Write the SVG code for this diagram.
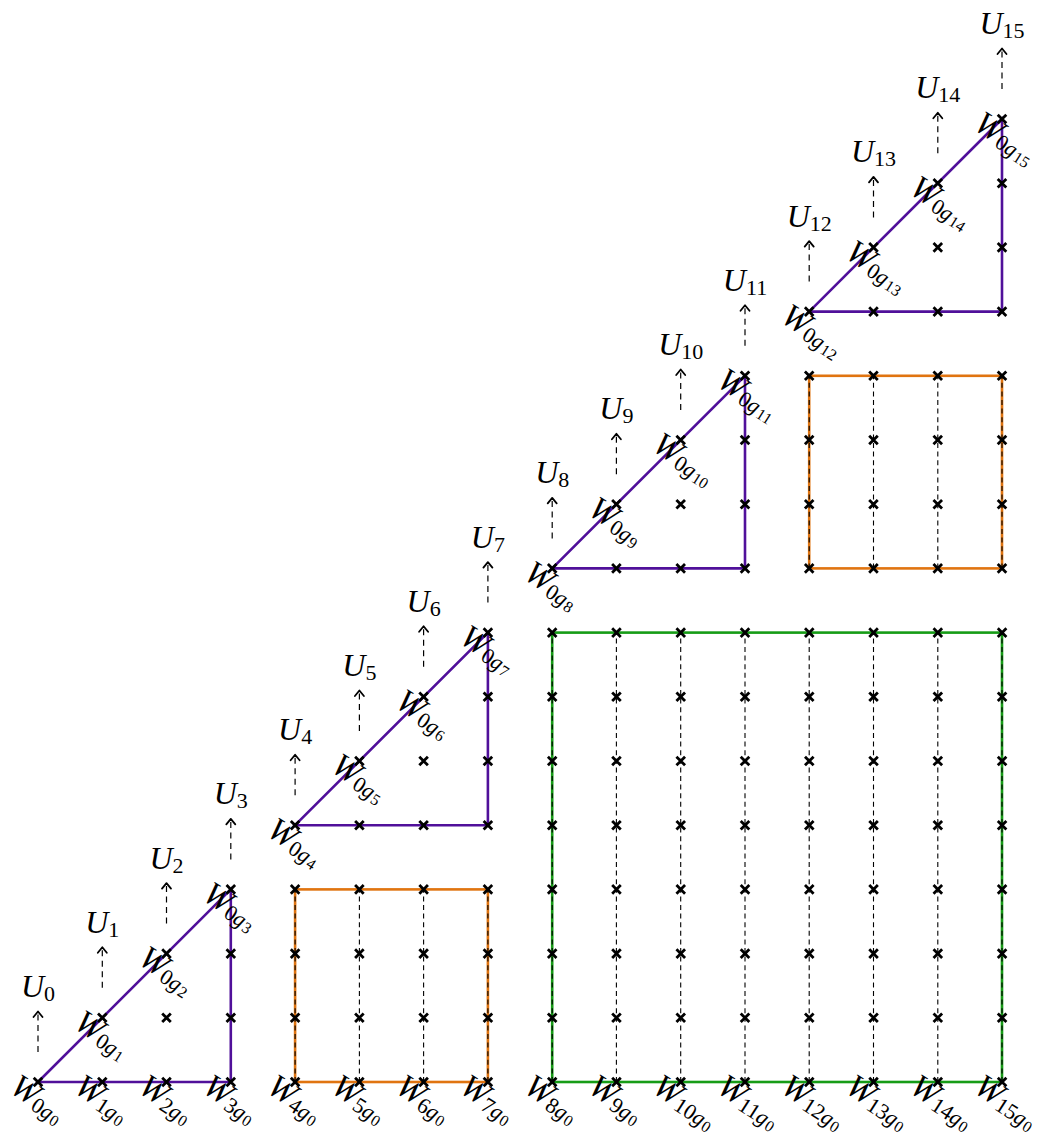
<svg xmlns="http://www.w3.org/2000/svg" xmlns:xlink="http://www.w3.org/1999/xlink" width="1038" height="1136" viewBox="0 0 1038 1136">
<style>
.pur{fill:none;stroke:#50109a;stroke-width:2.6;stroke-linejoin:miter}
.org{fill:none;stroke:#e07410;stroke-width:2.6}
.grn{fill:none;stroke:#169c16;stroke-width:2.6}
.dsh{stroke:#000;stroke-width:1.1;stroke-dasharray:5 3.6;fill:none}
.adsh{stroke:#000;stroke-width:1.2;stroke-dasharray:6 4.5;fill:none}
.xm{stroke:#000;stroke-width:2.8;fill:none}
.ah{stroke:#000;stroke-width:1.8;fill:none;stroke-linecap:round;stroke-linejoin:round}
text{font-family:"Liberation Serif","DejaVu Serif",serif;fill:#000}
.w{font-size:33px;font-style:italic}
.u{font-size:32px;font-style:italic}
.s{font-size:22px;font-style:normal}
.si{font-size:22px;font-style:italic}
.ss{font-size:16px;font-style:normal}
</style>
<defs>
<path id="x" class="xm" d="M-4.3,-4.3L4.3,4.3M-4.3,4.3L4.3,-4.3"/>
<g id="r4"><use href="#x" x="0"/><use href="#x" x="64.27"/><use href="#x" x="128.54"/><use href="#x" x="192.81"/></g>
<g id="r8"><use href="#r4" x="0"/><use href="#r4" x="257.08"/></g>
<g id="arr"><line class="adsh" x1="0" y1="-30" x2="0" y2="-69"/><path class="ah" d="M-4.5,-65L0,-70.5L4.5,-65"/></g>
</defs>
<rect width="1038" height="1136" fill="#fff"/>

<g id="connectors">
<polygon class="pur" points="38,1082 230.8,1082 230.8,889.4"/>
<polygon class="pur" points="295.1,825.2 487.9,825.2 487.9,632.6"/>
<polygon class="pur" points="552.2,568.4 745,568.4 745,375.8"/>
<polygon class="pur" points="809.2,311.6 1002,311.6 1002,119"/>
<rect class="org" x="295.1" y="889.4" width="192.8" height="192.6"/>
<rect class="org" x="809.2" y="375.8" width="192.8" height="192.6"/>
<rect class="grn" x="552.2" y="632.6" width="449.8" height="449.4"/>
<g>
<line class="dsh" x1="295.1" y1="1082" x2="295.1" y2="889.4"/>
<line class="dsh" x1="359.4" y1="1082" x2="359.4" y2="889.4"/>
<line class="dsh" x1="423.6" y1="1082" x2="423.6" y2="889.4"/>
<line class="dsh" x1="487.9" y1="1082" x2="487.9" y2="889.4"/>
<line class="dsh" x1="809.2" y1="568.4" x2="809.2" y2="375.8"/>
<line class="dsh" x1="873.5" y1="568.4" x2="873.5" y2="375.8"/>
<line class="dsh" x1="937.8" y1="568.4" x2="937.8" y2="375.8"/>
<line class="dsh" x1="1002" y1="568.4" x2="1002" y2="375.8"/>
<line class="dsh" x1="552.2" y1="1082" x2="552.2" y2="632.6"/>
<line class="dsh" x1="616.4" y1="1082" x2="616.4" y2="632.6"/>
<line class="dsh" x1="680.7" y1="1082" x2="680.7" y2="632.6"/>
<line class="dsh" x1="745" y1="1082" x2="745" y2="632.6"/>
<line class="dsh" x1="809.2" y1="1082" x2="809.2" y2="632.6"/>
<line class="dsh" x1="873.5" y1="1082" x2="873.5" y2="632.6"/>
<line class="dsh" x1="937.8" y1="1082" x2="937.8" y2="632.6"/>
<line class="dsh" x1="1002" y1="1082" x2="1002" y2="632.6"/>
</g>
<g id="arrows">
<use href="#arr" x="38" y="1082"/>
<use href="#arr" x="102.3" y="1017.8"/>
<use href="#arr" x="166.5" y="953.6"/>
<use href="#arr" x="230.8" y="889.4"/>
<use href="#arr" x="295.1" y="825.2"/>
<use href="#arr" x="359.4" y="761"/>
<use href="#arr" x="423.6" y="696.8"/>
<use href="#arr" x="487.9" y="632.6"/>
<use href="#arr" x="552.2" y="568.4"/>
<use href="#arr" x="616.4" y="504.2"/>
<use href="#arr" x="680.7" y="440"/>
<use href="#arr" x="745" y="375.8"/>
<use href="#arr" x="809.2" y="311.6"/>
<use href="#arr" x="873.5" y="247.4"/>
<use href="#arr" x="937.8" y="183.2"/>
<use href="#arr" x="1002" y="119"/>
</g>
</g>

<g id="block-tri-0">
<use href="#x" x="38" y="1082"/><use href="#x" x="102.3" y="1082"/><use href="#x" x="166.5" y="1082"/><use href="#x" x="230.8" y="1082"/>
<use href="#x" x="102.3" y="1017.8"/><use href="#x" x="166.5" y="1017.8"/><use href="#x" x="230.8" y="1017.8"/>
<use href="#x" x="166.5" y="953.6"/><use href="#x" x="230.8" y="953.6"/><use href="#x" x="230.8" y="889.4"/>
</g>
<g id="block-tri-1">
<use href="#x" x="295.1" y="825.2"/><use href="#x" x="359.4" y="825.2"/><use href="#x" x="423.6" y="825.2"/><use href="#x" x="487.9" y="825.2"/>
<use href="#x" x="359.4" y="761"/><use href="#x" x="423.6" y="761"/><use href="#x" x="487.9" y="761"/>
<use href="#x" x="423.6" y="696.8"/><use href="#x" x="487.9" y="696.8"/><use href="#x" x="487.9" y="632.6"/>
</g>
<g id="block-tri-2">
<use href="#x" x="552.2" y="568.4"/><use href="#x" x="616.4" y="568.4"/><use href="#x" x="680.7" y="568.4"/><use href="#x" x="745" y="568.4"/>
<use href="#x" x="616.4" y="504.2"/><use href="#x" x="680.7" y="504.2"/><use href="#x" x="745" y="504.2"/>
<use href="#x" x="680.7" y="440"/><use href="#x" x="745" y="440"/><use href="#x" x="745" y="375.8"/>
</g>
<g id="block-tri-3">
<use href="#x" x="809.2" y="311.6"/><use href="#x" x="873.5" y="311.6"/><use href="#x" x="937.8" y="311.6"/><use href="#x" x="1002" y="311.6"/>
<use href="#x" x="873.5" y="247.4"/><use href="#x" x="937.8" y="247.4"/><use href="#x" x="1002" y="247.4"/>
<use href="#x" x="937.8" y="183.2"/><use href="#x" x="1002" y="183.2"/><use href="#x" x="1002" y="119"/>
</g>
<g id="block-sq-orange-a">
<use href="#r4" x="295.1" y="1082"/><use href="#r4" x="295.1" y="1017.8"/><use href="#r4" x="295.1" y="953.6"/><use href="#r4" x="295.1" y="889.4"/>
</g>
<g id="block-sq-orange-b">
<use href="#r4" x="809.2" y="568.4"/><use href="#r4" x="809.2" y="504.2"/><use href="#r4" x="809.2" y="440"/><use href="#r4" x="809.2" y="375.8"/>
</g>
<g id="block-sq-green">
<use href="#r8" x="552.2" y="1082"/><use href="#r8" x="552.2" y="1017.8"/><use href="#r8" x="552.2" y="953.6"/><use href="#r8" x="552.2" y="889.4"/>
<use href="#r8" x="552.2" y="825.2"/><use href="#r8" x="552.2" y="761"/><use href="#r8" x="552.2" y="696.8"/><use href="#r8" x="552.2" y="632.6"/>
</g>

<g id="u-labels">
<text class="u" x="38" y="997" text-anchor="middle">U<tspan class="s" dy="4">0</tspan></text>
<text class="u" x="102.3" y="932.8" text-anchor="middle">U<tspan class="s" dy="4">1</tspan></text>
<text class="u" x="166.5" y="868.6" text-anchor="middle">U<tspan class="s" dy="4">2</tspan></text>
<text class="u" x="230.8" y="804.4" text-anchor="middle">U<tspan class="s" dy="4">3</tspan></text>
<text class="u" x="295.1" y="740.2" text-anchor="middle">U<tspan class="s" dy="4">4</tspan></text>
<text class="u" x="359.4" y="676" text-anchor="middle">U<tspan class="s" dy="4">5</tspan></text>
<text class="u" x="423.6" y="611.8" text-anchor="middle">U<tspan class="s" dy="4">6</tspan></text>
<text class="u" x="487.9" y="547.6" text-anchor="middle">U<tspan class="s" dy="4">7</tspan></text>
<text class="u" x="552.2" y="483.4" text-anchor="middle">U<tspan class="s" dy="4">8</tspan></text>
<text class="u" x="616.4" y="419.2" text-anchor="middle">U<tspan class="s" dy="4">9</tspan></text>
<text class="u" x="680.7" y="355" text-anchor="middle">U<tspan class="s" dy="4">10</tspan></text>
<text class="u" x="745" y="290.8" text-anchor="middle">U<tspan class="s" dy="4">11</tspan></text>
<text class="u" x="809.2" y="226.6" text-anchor="middle">U<tspan class="s" dy="4">12</tspan></text>
<text class="u" x="873.5" y="162.4" text-anchor="middle">U<tspan class="s" dy="4">13</tspan></text>
<text class="u" x="937.8" y="98.2" text-anchor="middle">U<tspan class="s" dy="4">14</tspan></text>
<text class="u" x="1002" y="34" text-anchor="middle">U<tspan class="s" dy="4">15</tspan></text>
</g>

<g id="w-bottom-labels">
<g transform="translate(38,1082) rotate(33)"><text class="w" x="-20" y="24">W<tspan class="s" dy="3">0</tspan><tspan class="si">g</tspan><tspan class="ss" dx="1" dy="2">0</tspan></text></g>
<g transform="translate(102.3,1082) rotate(33)"><text class="w" x="-20" y="24">W<tspan class="s" dy="3">1</tspan><tspan class="si">g</tspan><tspan class="ss" dx="1" dy="2">0</tspan></text></g>
<g transform="translate(166.5,1082) rotate(33)"><text class="w" x="-20" y="24">W<tspan class="s" dy="3">2</tspan><tspan class="si">g</tspan><tspan class="ss" dx="1" dy="2">0</tspan></text></g>
<g transform="translate(230.8,1082) rotate(33)"><text class="w" x="-20" y="24">W<tspan class="s" dy="3">3</tspan><tspan class="si">g</tspan><tspan class="ss" dx="1" dy="2">0</tspan></text></g>
<g transform="translate(295.1,1082) rotate(33)"><text class="w" x="-20" y="24">W<tspan class="s" dy="3">4</tspan><tspan class="si">g</tspan><tspan class="ss" dx="1" dy="2">0</tspan></text></g>
<g transform="translate(359.4,1082) rotate(33)"><text class="w" x="-20" y="24">W<tspan class="s" dy="3">5</tspan><tspan class="si">g</tspan><tspan class="ss" dx="1" dy="2">0</tspan></text></g>
<g transform="translate(423.6,1082) rotate(33)"><text class="w" x="-20" y="24">W<tspan class="s" dy="3">6</tspan><tspan class="si">g</tspan><tspan class="ss" dx="1" dy="2">0</tspan></text></g>
<g transform="translate(487.9,1082) rotate(33)"><text class="w" x="-20" y="24">W<tspan class="s" dy="3">7</tspan><tspan class="si">g</tspan><tspan class="ss" dx="1" dy="2">0</tspan></text></g>
<g transform="translate(552.2,1082) rotate(33)"><text class="w" x="-20" y="24">W<tspan class="s" dy="3">8</tspan><tspan class="si">g</tspan><tspan class="ss" dx="1" dy="2">0</tspan></text></g>
<g transform="translate(616.4,1082) rotate(33)"><text class="w" x="-20" y="24">W<tspan class="s" dy="3">9</tspan><tspan class="si">g</tspan><tspan class="ss" dx="1" dy="2">0</tspan></text></g>
<g transform="translate(680.7,1082) rotate(33)"><text class="w" x="-20" y="24">W<tspan class="s" dy="3">10</tspan><tspan class="si">g</tspan><tspan class="ss" dx="1" dy="2">0</tspan></text></g>
<g transform="translate(745,1082) rotate(33)"><text class="w" x="-20" y="24">W<tspan class="s" dy="3">11</tspan><tspan class="si">g</tspan><tspan class="ss" dx="1" dy="2">0</tspan></text></g>
<g transform="translate(809.2,1082) rotate(33)"><text class="w" x="-20" y="24">W<tspan class="s" dy="3">12</tspan><tspan class="si">g</tspan><tspan class="ss" dx="1" dy="2">0</tspan></text></g>
<g transform="translate(873.5,1082) rotate(33)"><text class="w" x="-20" y="24">W<tspan class="s" dy="3">13</tspan><tspan class="si">g</tspan><tspan class="ss" dx="1" dy="2">0</tspan></text></g>
<g transform="translate(937.8,1082) rotate(33)"><text class="w" x="-20" y="24">W<tspan class="s" dy="3">14</tspan><tspan class="si">g</tspan><tspan class="ss" dx="1" dy="2">0</tspan></text></g>
<g transform="translate(1002,1082) rotate(33)"><text class="w" x="-20" y="24">W<tspan class="s" dy="3">15</tspan><tspan class="si">g</tspan><tspan class="ss" dx="1" dy="2">0</tspan></text></g>
</g>

<g id="w-diag-labels">
<g transform="translate(102.3,1017.8) rotate(33)"><text class="w" x="-20" y="24">W<tspan class="s" dy="3">0</tspan><tspan class="si">g</tspan><tspan class="ss" dx="1" dy="2">1</tspan></text></g>
<g transform="translate(166.5,953.6) rotate(33)"><text class="w" x="-20" y="24">W<tspan class="s" dy="3">0</tspan><tspan class="si">g</tspan><tspan class="ss" dx="1" dy="2">2</tspan></text></g>
<g transform="translate(230.8,889.4) rotate(33)"><text class="w" x="-20" y="24">W<tspan class="s" dy="3">0</tspan><tspan class="si">g</tspan><tspan class="ss" dx="1" dy="2">3</tspan></text></g>
<g transform="translate(295.1,825.2) rotate(33)"><text class="w" x="-20" y="24">W<tspan class="s" dy="3">0</tspan><tspan class="si">g</tspan><tspan class="ss" dx="1" dy="2">4</tspan></text></g>
<g transform="translate(359.4,761) rotate(33)"><text class="w" x="-20" y="24">W<tspan class="s" dy="3">0</tspan><tspan class="si">g</tspan><tspan class="ss" dx="1" dy="2">5</tspan></text></g>
<g transform="translate(423.6,696.8) rotate(33)"><text class="w" x="-20" y="24">W<tspan class="s" dy="3">0</tspan><tspan class="si">g</tspan><tspan class="ss" dx="1" dy="2">6</tspan></text></g>
<g transform="translate(487.9,632.6) rotate(33)"><text class="w" x="-20" y="24">W<tspan class="s" dy="3">0</tspan><tspan class="si">g</tspan><tspan class="ss" dx="1" dy="2">7</tspan></text></g>
<g transform="translate(552.2,568.4) rotate(33)"><text class="w" x="-20" y="24">W<tspan class="s" dy="3">0</tspan><tspan class="si">g</tspan><tspan class="ss" dx="1" dy="2">8</tspan></text></g>
<g transform="translate(616.4,504.2) rotate(33)"><text class="w" x="-20" y="24">W<tspan class="s" dy="3">0</tspan><tspan class="si">g</tspan><tspan class="ss" dx="1" dy="2">9</tspan></text></g>
<g transform="translate(680.7,440) rotate(33)"><text class="w" x="-20" y="24">W<tspan class="s" dy="3">0</tspan><tspan class="si">g</tspan><tspan class="ss" dx="1" dy="2">10</tspan></text></g>
<g transform="translate(745,375.8) rotate(33)"><text class="w" x="-20" y="24">W<tspan class="s" dy="3">0</tspan><tspan class="si">g</tspan><tspan class="ss" dx="1" dy="2">11</tspan></text></g>
<g transform="translate(809.2,311.6) rotate(33)"><text class="w" x="-20" y="24">W<tspan class="s" dy="3">0</tspan><tspan class="si">g</tspan><tspan class="ss" dx="1" dy="2">12</tspan></text></g>
<g transform="translate(873.5,247.4) rotate(33)"><text class="w" x="-20" y="24">W<tspan class="s" dy="3">0</tspan><tspan class="si">g</tspan><tspan class="ss" dx="1" dy="2">13</tspan></text></g>
<g transform="translate(937.8,183.2) rotate(33)"><text class="w" x="-20" y="24">W<tspan class="s" dy="3">0</tspan><tspan class="si">g</tspan><tspan class="ss" dx="1" dy="2">14</tspan></text></g>
<g transform="translate(1002,119) rotate(33)"><text class="w" x="-20" y="24">W<tspan class="s" dy="3">0</tspan><tspan class="si">g</tspan><tspan class="ss" dx="1" dy="2">15</tspan></text></g>
</g>
</svg>
